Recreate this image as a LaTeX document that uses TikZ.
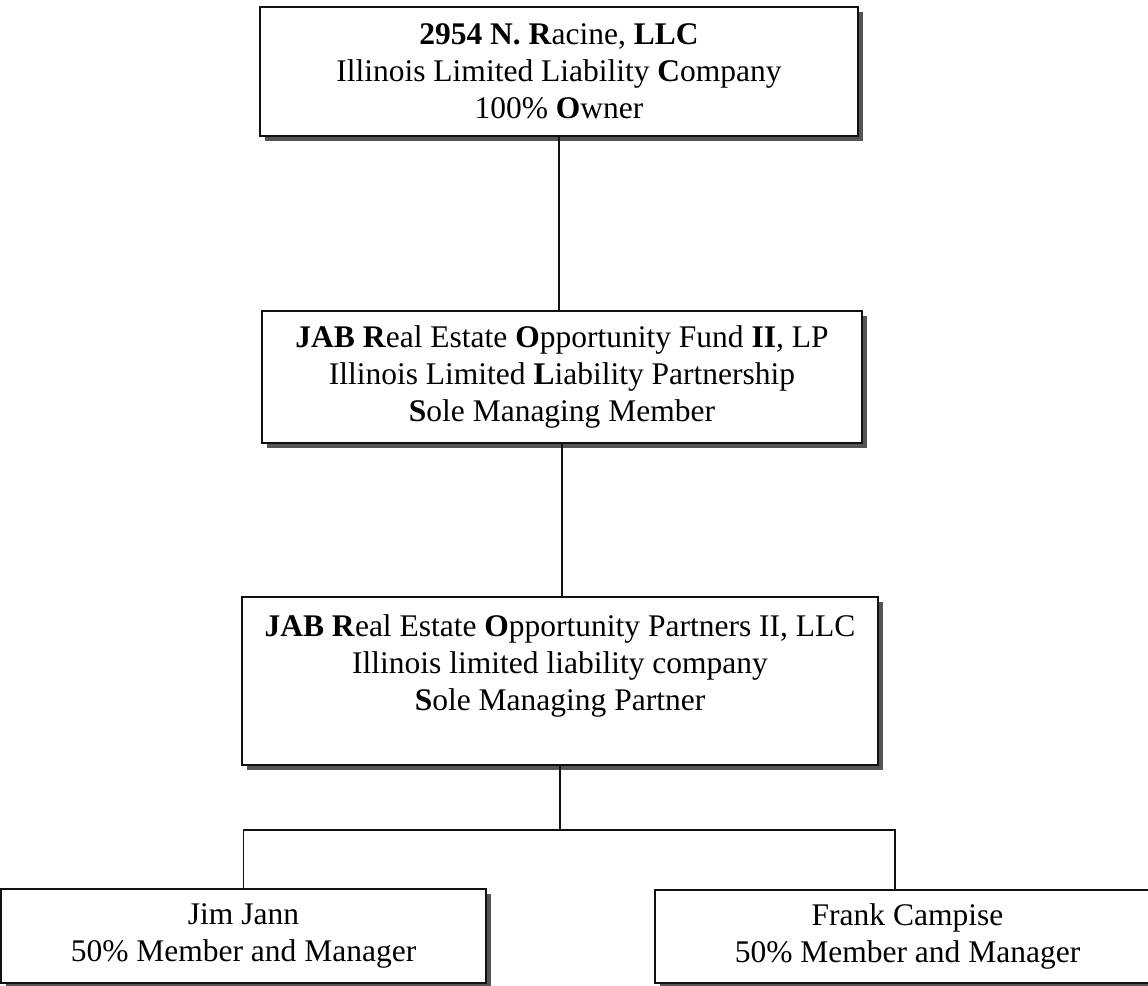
\documentclass[tikz,border=0pt]{standalone}
\usepackage{fontspec}
\setmainfont{Liberation Serif}
\usepackage{xcolor}
\usepackage{tikz}
\usetikzlibrary{calc,shadows}
\definecolor{ink}{HTML}{111111}
\definecolor{shade}{HTML}{555555}
\tikzset{
  box/.style={draw=ink, line width=1.6pt, fill=white, align=center, inner sep=0pt,
    font=\fontsize{31.5}{37}\selectfont,
    general shadow={fill=shade, shadow xshift=5pt, shadow yshift=-5pt}},
  link/.style={draw=ink, line width=1.6pt},
}

\begin{document}
\begin{tikzpicture}[x=1pt,y=1pt]
  \useasboundingbox (0,0) rectangle (1148,-985);
  \coordinate (bus) at (560,-830);
  \coordinate (frankdrop) at (895,-830);
  \node[box, minimum width=598pt, minimum height=129pt] (racine) at (559,-71.5)
    {\textbf{2954 N. R}acine, \textbf{LLC}\\ Illinois Limited Liability \textbf{C}ompany\\ 100\% \textbf{O}wner};
  \node[box, minimum width=600pt, minimum height=132pt] (fund) at (562,-377)
    {\textbf{JAB R}eal Estate \textbf{O}pportunity Fund \textbf{II}, LP\\ Illinois Limited \textbf{L}iability Partnership\\ \textbf{S}ole Managing Member};
  \node[box, minimum width=636pt, minimum height=168pt] (partners) at (560,-681)
    {\textbf{JAB R}eal Estate \textbf{O}pportunity Partners II, LLC\\ Illinois limited liability company\\ \textbf{S}ole Managing Partner\\ \mbox{}};
  \node[box, minimum width=485pt, minimum height=94pt] (jim) at (243.5,-936)
    {Jim Jann\\ 50\% Member and Manager};
  \node[box, minimum width=505pt, minimum height=93pt] (frank) at (907.5,-936.5)
    {Frank Campise\\ 50\% Member and Manager};
  % ownership lines
  \draw[link] (racine.south) -- (racine.south |- fund.north);
  \draw[link] (fund.south) -- (fund.south |- partners.north);
  \draw[link] (partners.south) -- (bus);
  \draw[link] (jim.north) -- (jim.north |- bus) -- (frankdrop) -- (frankdrop |- frank.north);
\end{tikzpicture}
\end{document}
